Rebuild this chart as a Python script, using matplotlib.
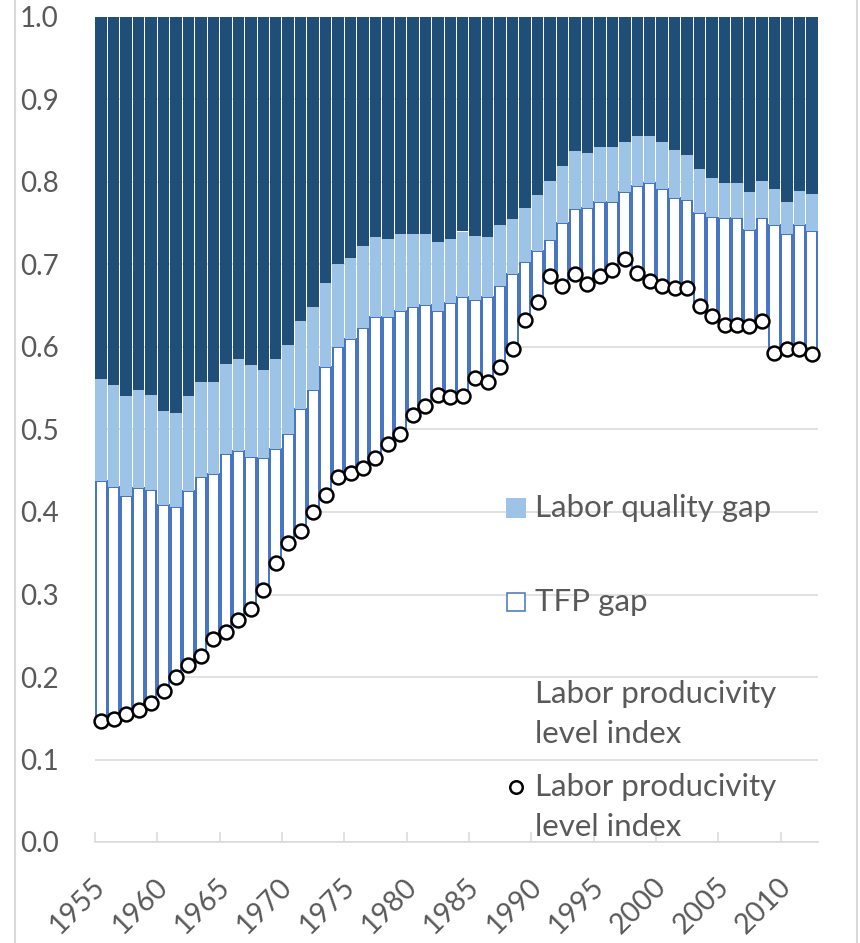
import matplotlib
matplotlib.use("Agg")
import matplotlib.pyplot as plt
import numpy as np
from matplotlib.patches import Rectangle
from matplotlib.lines import Line2D

plt.rcParams["font.family"] = ["Lato", "DejaVu Sans"]

years = list(range(1955, 2013))

# labor productivity level index (circles)
lp_level = [
    0.147, 0.149, 0.155, 0.160, 0.168, 0.183, 0.200, 0.215, 0.226, 0.246,
    0.254, 0.269, 0.283, 0.306, 0.338, 0.362, 0.377, 0.400, 0.421, 0.443,
    0.447, 0.453, 0.466, 0.483, 0.494, 0.518, 0.529, 0.542, 0.539, 0.540,
    0.563, 0.557, 0.576, 0.598, 0.633, 0.655, 0.686, 0.674, 0.688, 0.676,
    0.686, 0.693, 0.707, 0.690, 0.680, 0.674, 0.672, 0.671, 0.650, 0.637,
    0.627, 0.627, 0.625, 0.631, 0.593, 0.597, 0.597, 0.591,
]
# top of the TFP gap segment
tfp_top = [
    0.438, 0.430, 0.419, 0.429, 0.427, 0.408, 0.406, 0.425, 0.442, 0.446,
    0.470, 0.474, 0.467, 0.465, 0.476, 0.495, 0.525, 0.548, 0.576, 0.600,
    0.610, 0.623, 0.636, 0.636, 0.644, 0.648, 0.651, 0.644, 0.653, 0.661,
    0.657, 0.661, 0.674, 0.688, 0.703, 0.716, 0.730, 0.750, 0.767, 0.769,
    0.776, 0.776, 0.788, 0.795, 0.799, 0.791, 0.780, 0.778, 0.763, 0.757,
    0.756, 0.756, 0.742, 0.756, 0.748, 0.737, 0.748, 0.741,
]
# top of the labor quality gap segment
lq_top = [
    0.561, 0.554, 0.540, 0.548, 0.542, 0.523, 0.520, 0.540, 0.557, 0.557,
    0.580, 0.586, 0.578, 0.572, 0.586, 0.603, 0.631, 0.649, 0.678, 0.701,
    0.708, 0.722, 0.733, 0.731, 0.737, 0.737, 0.737, 0.727, 0.731, 0.740,
    0.735, 0.733, 0.748, 0.755, 0.769, 0.784, 0.801, 0.820, 0.837, 0.835,
    0.842, 0.842, 0.848, 0.856, 0.856, 0.848, 0.839, 0.833, 0.816, 0.805,
    0.799, 0.799, 0.788, 0.801, 0.791, 0.776, 0.789, 0.786,
]
total = 1.0

lp = np.array(lp_level)
tfp = np.array(tfp_top)
lq = np.array(lq_top)
x = np.arange(len(years))

textColor = "#595959"
gridColor = "#D9D9D9"

fig = plt.figure(figsize=(8.6, 9.43), dpi=100)
ax = fig.add_axes([95 / 860, 101 / 943, 723 / 860, 825 / 943])

# stacked bars: invisible base (level), TFP gap, labor quality gap, remainder
ax.bar(x, tfp - lp, bottom=lp, width=0.86, color="white",
       edgecolor="#4472C4", linewidth=1.4, zorder=2)
ax.bar(x, lq - tfp, bottom=tfp, width=0.92, color="#9DC3E6",
       linewidth=0, zorder=2)
ax.bar(x, total - lq, bottom=lq, width=0.92, color="#1F4E79",
       linewidth=0, zorder=2)
ax.plot(x, lp, "o", ms=10, mfc="white", mec="black", mew=1.8,
        ls="none", zorder=5, clip_on=False)

ax.set_xlim(-0.5, len(years) - 0.5)
ax.set_ylim(0, 1.0)
ax.set_yticks(np.arange(0, 1.01, 0.1))
ax.set_yticklabels([f"{v:.1f}" for v in np.arange(0, 1.01, 0.1)])
ax.yaxis.grid(True, color=gridColor, linewidth=1.1)
ax.set_axisbelow(True)
ax.tick_params(axis="y", length=0, pad=26, labelsize=20, labelcolor=textColor)

ax.set_xticks(x[::5])
ax.set_xticklabels([str(y) for y in years[::5]], rotation=45, ha="right",
                   va="center", rotation_mode="anchor")
ax.set_xticks(np.arange(-0.5, len(years) - 1, 5), minor=True)
ax.tick_params(axis="x", which="major", length=0, pad=29,
               labelsize=20.5, labelcolor=textColor)
ax.tick_params(axis="x", which="minor", direction="in", length=7,
               width=1.1, color=gridColor)

for side in ["top", "left", "right"]:
    ax.spines[side].set_visible(False)
ax.spines["bottom"].set_color(gridColor)
ax.spines["bottom"].set_linewidth(1.1)

# legend laid out like the original spreadsheet legend
legendX = (506 - 95) / 723
textX = (535 - 95) / 723
boxW = 20 / 723
boxH = 20 / 825


def legendY(py):
    return (842 - py) / 825


ax.add_patch(Rectangle((legendX, legendY(508) - boxH / 2), boxW, boxH,
                       transform=ax.transAxes, facecolor="#9DC3E6",
                       edgecolor="none", zorder=6, clip_on=False))
ax.add_patch(Rectangle((legendX + 0.001, legendY(602) - boxH / 2 + 0.001),
                       boxW - 0.002, boxH - 0.002, transform=ax.transAxes,
                       facecolor="white", edgecolor="#4472C4", linewidth=1.1,
                       zorder=6, clip_on=False))
ax.plot([legendX + boxW / 2], [legendY(787)], "o", ms=9, mfc="white",
        mec="black", mew=1.8, transform=ax.transAxes, zorder=6, clip_on=False)

legendFont = dict(fontsize=22.5, color=textColor, transform=ax.transAxes,
                  ha="left", va="center", zorder=6)
ax.text(textX, legendY(508), "Labor quality gap", **legendFont)
ax.text(textX, legendY(602), "TFP gap", **legendFont)
ax.text(textX, legendY(714), "Labor producivity\nlevel index",
        linespacing=1.5, **legendFont)
ax.text(textX, legendY(807), "Labor producivity\nlevel index",
        linespacing=1.5, **legendFont)

# chart area border
for px in (15, 857):
    fig.add_artist(Line2D([px / 860, px / 860], [0, 1], transform=fig.transFigure,
                          color=gridColor, linewidth=1.5))

fig.savefig("out.png", dpi=100)
